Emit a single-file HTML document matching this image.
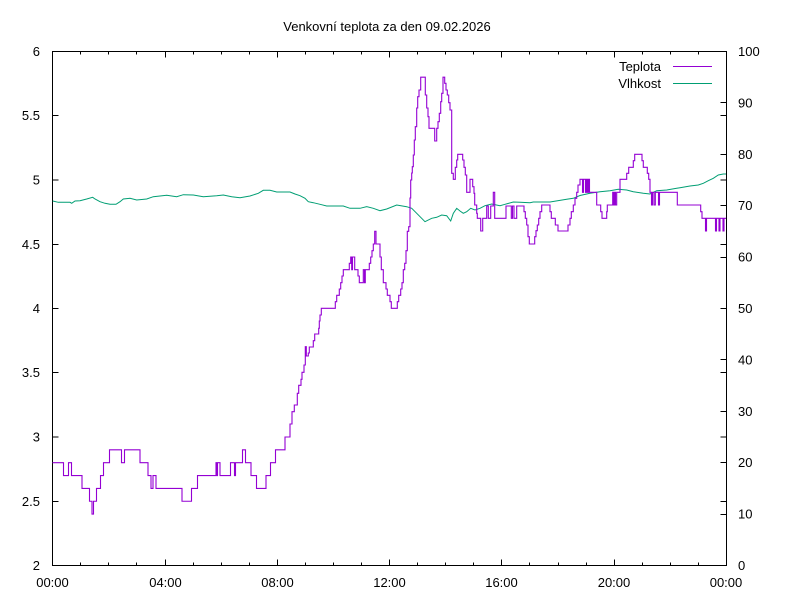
<!DOCTYPE html>
<html><head><meta charset="utf-8"><style>
html,body{margin:0;padding:0;background:#fff;}
svg{display:block;}
text{font-family:"Liberation Sans",Arial,sans-serif;font-size:13px;fill:#000;}
</style></head><body>
<svg width="800" height="600" viewBox="0 0 800 600" xmlns="http://www.w3.org/2000/svg">
<rect width="800" height="600" fill="#fff"/>
<text x="387" y="31" text-anchor="middle">Venkovní teplota za den 09.02.2026</text>

<!-- ticks -->
<g stroke="#000" stroke-width="1" fill="none" shape-rendering="crispEdges">
<!-- y1 ticks left and mirrored right -->
<path d="M52.5 501.5h6M52.5 437h6M52.5 372.5h6M52.5 308.5h6M52.5 244.5h6M52.5 180h6M52.5 115.5h6
M720.5 501.5h6M720.5 437h6M720.5 372.5h6M720.5 308.5h6M720.5 244.5h6M720.5 180h6M720.5 115.5h6"/>
<!-- y2 ticks right -->
<path d="M720.5 514.5h6M720.5 462.5h6M720.5 411.5h6M720.5 359.5h6M720.5 308.5h6M720.5 257.5h6M720.5 205.5h6M720.5 154.5h6M720.5 102.5h6"/>
<!-- x major ticks -->
<path d="M165.5 565.5v-6M277.5 565.5v-6M389.5 565.5v-6M501.5 565.5v-6M614.5 565.5v-6
M165.5 51.5v6M277.5 51.5v6M389.5 51.5v6M501.5 51.5v6M614.5 51.5v6"/>
<!-- x minor ticks -->
<path d="M80.5 565.5v-3M108.5 565.5v-3M136.5 565.5v-3M193.5 565.5v-3M221.5 565.5v-3M249.5 565.5v-3M305.5 565.5v-3M333.5 565.5v-3M361.5 565.5v-3M417.5 565.5v-3M445.5 565.5v-3M473.5 565.5v-3M529.5 565.5v-3M558.5 565.5v-3M586.5 565.5v-3M642.5 565.5v-3M670.5 565.5v-3M698.5 565.5v-3
M80.5 51.5v3M108.5 51.5v3M136.5 51.5v3M193.5 51.5v3M221.5 51.5v3M249.5 51.5v3M305.5 51.5v3M333.5 51.5v3M361.5 51.5v3M417.5 51.5v3M445.5 51.5v3M473.5 51.5v3M529.5 51.5v3M558.5 51.5v3M586.5 51.5v3M642.5 51.5v3M670.5 51.5v3M698.5 51.5v3"/>
<rect x="52.5" y="51.5" width="674" height="514"/>
</g>

<!-- left labels -->
<g text-anchor="end">
<text x="40" y="570">2</text>
<text x="40" y="506">2.5</text>
<text x="40" y="441.5">3</text>
<text x="40" y="377">3.5</text>
<text x="40" y="313">4</text>
<text x="40" y="249">4.5</text>
<text x="40" y="184.5">5</text>
<text x="40" y="120">5.5</text>
<text x="40" y="56">6</text>
</g>
<!-- right labels -->
<g text-anchor="start">
<text x="738" y="570">0</text>
<text x="738" y="518.5">10</text>
<text x="738" y="467">20</text>
<text x="738" y="416">30</text>
<text x="738" y="364.5">40</text>
<text x="738" y="313">50</text>
<text x="738" y="261.5">60</text>
<text x="738" y="210">70</text>
<text x="738" y="159">80</text>
<text x="738" y="107.5">90</text>
<text x="738" y="56">100</text>
</g>
<!-- x labels -->
<g text-anchor="middle">
<text x="52.5" y="587">00:00</text>
<text x="165.5" y="587">04:00</text>
<text x="277.5" y="587">08:00</text>
<text x="389.5" y="587">12:00</text>
<text x="501.5" y="587">16:00</text>
<text x="614" y="587">20:00</text>
<text x="726" y="587">00:00</text>
</g>

<!-- humidity -->
<polyline fill="none" stroke="#009e73" stroke-width="1" points="52.7,201 58.3,202.3 70,202.3 71.7,203.3 75,201 80,200.7 86.7,199 92.7,197.3 95,199 100,201.7 105,203.3 110,204.3 116,204.3 120,201.7 123.3,199 130,198.3 136.7,200 146.7,199 153.3,196.7 166.7,195.3 176.7,196.7 183.3,194.7 193.3,195 203.3,196.7 216.7,195.7 223.3,195 231.7,196.7 240,197.7 250,196 258.3,193.3 263.3,190.3 270,190.3 276.7,192 290,192 295,194 300,195.7 305,198.3 308.3,201.7 313.3,202.7 320,204.3 326.7,206 343.3,206 350,208.3 360,208.3 366.7,206.7 373.3,208.3 380,210.7 386.7,209 396.7,205 406.7,206.7 411.7,208.3 416.7,213.3 425,221.7 431.7,218.3 436.7,217.3 441.7,215 446.7,215.7 450.7,221 453.3,213.3 456.7,208.3 460,211 463.3,213.3 466.7,211.7 470.7,208.3 475,210 480,208.3 485,205.7 491.7,204 500,205.7 505,204.3 513.3,202 520,202.3 530,202.7 533.3,202 550,202 566.7,199.3 573.3,198.3 580,195.5 590,193.3 600,191.7 610,190.7 618.3,189.3 626.7,190 633.3,191.7 643.3,193.3 650,194 656.7,190.7 666.7,190 676.7,188.3 680,187.7 690,186 698.3,185 703.3,183.3 708.3,180.7 713.3,178.3 718.3,175 723.3,174 726,174"/>

<!-- temperature -->
<path fill="none" stroke="#9400d3" stroke-width="1.1" d="M52.5 462.7
H63.5 V475.55 H68.5 V462.7 H71.5 V475.55 H82 V488.4 H89.5 V501.25 H92 V514.1 H93.5 V501.25 H96.5 V488.4 H100.5 V475.55 H103.5 V462.7 H109.5 V449.85 H121.5 V462.7 H124.5 V449.85 H140 V462.7 H148 V475.55 H151 V488.4 H153 V475.55 H156 V488.4 H182 V501.25 H191.5 V488.4 H197.5 V475.55 H216 V462.7 H217 V475.55 H217.5 V462.7 H220 V475.55 H230.5 V462.7 H234.5 V475.55 H235.5 V462.7 H242.5 V449.85 H245.5 V462.7 H251 V475.55 H256.5 V488.4 H266 V475.55 H270.5 V462.7 H275.5 V449.85 H285 V437
H290 V424 H292 V411.7 H294.3 V405 H297.3 V393.3 H298.7 V385.3 H301 V379.3 H302 V372.3 H304 V365 H305.3 V346.7 H306.3 V356 H308.3 V353 H309.3 V347 H313.3 V340.7 H314.7 V334 H318.7 V328.3 H319.3 V321 H320 V315 H321.3 V308.3 H335.3 V301.7 H336.7 V295.3 H339.3 V289 H340.7 V282.7 H342 V276 H343.3 V269.7 H349.3 V263.3 H350.7 V257 H351.7 V269.7 H352.5 V257 H354.7 V269.7 H358 V276 H359.3 V282.7 H363.3 V269.7 H364.5 V282.7 H365.3 V269.7 H369.3 V263.3 H370.7 V257 H372 V250.7 H373.3 V244 H374.7 V231.3 H376 V244 H380 V257 H381.3 V269.7 H383.3 V282.7 H386 V289 H387.3 V295.3 H390 V301.7 H391.3 V308.3 H397.3 V301.7 H398.7 V295.3 H400.7 V289 H402 V282.7 H403.3 V269.7 H404.7 V263.3 H406 V250.7 H407.3 V231.3 H408.7 V226.7 H410 V198 H410.7 V180 H411.7 V173 H412.3 V166.7 H413.3 V155 H414.3 V140 H415.3 V126.7 H416.7 V108 H417.7 V96.7 H419 V90 H420.7 V77.2 H425.3 V95 H426.7 V108 H428 V116.7 H429 V128.3 H434.7 V141 H436.7 V128.3 H438 V121.7 H439.3 V113.3 H440.7 V101.7 H441.7 V93.3 H443 V77.2 H444.7 V83.3 H446 V90 H447.3 V95 H448.7 V102.7 H450 V110 H451.7 V173.3 H453.3 V179.3 H455.3 V167.3 H456.7 V160 H457.7 V154.3 H462.7 V160 H464 V167.3 H465.3 V175 H466.7 V192.3 H470 V179.3 H472.7 V186.7 H474 V193.3 H474.7 V205 H476.7 V213.3 H477.3 V218.3 H480.7 V231 H482.7 V218.3 H486.7 V206 H488.3 V218.3 H490.7 V206 H493.3 V192.3 H494.7 V218.3 H506 V206 H511.3 V218.3 H512.5 V206 H514 V218.3 H516.7 V206 H524 V211.7 H525.3 V218.3 H526.7 V225 H528 V236.7 H529.3 V244 H534.7 V236.7 H536 V230.7 H537.3 V225 H538.7 V218.3 H540 V211.7 H541.7 V205 H550 V211.7 H551.3 V218.3 H555.3 V225 H558 V231 H568 V225 H570 V218.3 H571.3 V211.7 H573.3 V205 H575 V198.3 H576.7 V192.3 H578 V185 H580 V179.3 H582.5 V192.3 H583.5 V179.3 H585.5 V192.3 H586.5 V179.3 H587.5 V192.3 H588.5 V179.3 H589.5 V192.3 H596.7 V205 H600.7 V211.7 H602 V218.3 H606.7 V211.7 H607.3 V205 H612.7 V192.3 H613.5 V205 H614.5 V192.3 H615.5 V205 H616.7 V192.3 H620 V179.3 H626.7 V173.3 H628.7 V167.3 H633.3 V160.7 H634.7 V154.3 H642 V160.7 H643.3 V167.3 H647.3 V173.3 H648.7 V179.3 H650 V192.3 H651.5 V205 H652.5 V192.3 H654 V205 H655.3 V192.3 H658.5 V205 H659.5 V192.3 H677.3 V205 H700.7 V211.7 H702 V218.3 H705.5 V231 H706.5 V218.3 H715.5 V231 H716.5 V218.3 H719 V231 H720 V218.3 H723 V231 H724 V218.3 H726"/>

<!-- legend -->
<text x="661" y="71" text-anchor="end">Teplota</text>
<text x="661" y="88" text-anchor="end">Vlhkost</text>
<path d="M673 66.5H712" stroke="#9400d3" stroke-width="1" shape-rendering="crispEdges"/>
<path d="M673 83.5H712" stroke="#009e73" stroke-width="1" shape-rendering="crispEdges"/>
</svg>
</body></html>
